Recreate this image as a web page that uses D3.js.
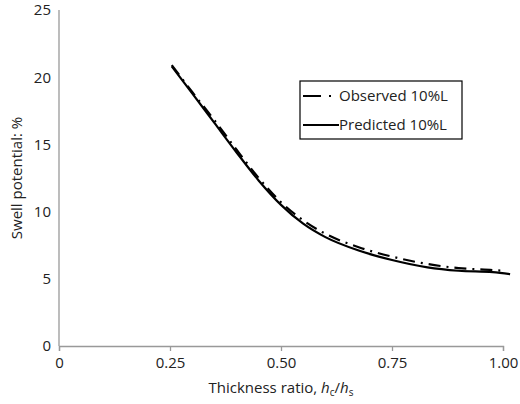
<!DOCTYPE html>
<html><head><meta charset="utf-8">
<script src="https://cdn.jsdelivr.net/npm/d3@7"></script>
<style>body{margin:0;background:#fff}text{font-family:"Open Sans",sans-serif;fill:#222}</style>
</head><body><svg id="c" width="520" height="404"></svg>
<script>
const xTicks = [0, 0.25, 0.5, 0.75, 1.0];
const xTickLabels = ['0', '0.25', '0.50', '0.75', '1.00'];
const yTicks = [0, 5, 10, 15, 20, 25];
const predX = [0.254, 0.30, 0.35, 0.40, 0.45, 0.50, 0.55, 0.60, 0.675, 0.75, 0.83, 0.90, 0.977, 1.016];
const predY = [20.8, 18.8, 16.6, 14.4, 12.3, 10.5, 9.1, 8.1, 7.1, 6.4, 5.85, 5.6, 5.5, 5.35];
const obsX = [0.254, 0.30, 0.35, 0.40, 0.45, 0.50, 0.55, 0.60, 0.675, 0.75, 0.83, 0.90, 0.977, 1.0];
const obsY = [20.9, 18.9, 16.8, 14.6, 12.5, 10.7, 9.35, 8.35, 7.35, 6.65, 6.1, 5.8, 5.65, 5.6];

const svg = d3.select('#c');
const x = d3.scaleLinear().domain([0, 1]).range([59, 503]);
const y = d3.scaleLinear().domain([0, 25]).range([346, 10]);

const xAxis = svg.append('g').attr('transform', 'translate(0,346)')
    .call(d3.axisBottom(x).tickValues(xTicks).tickFormat((d, i) => xTickLabels[i]).tickSizeOuter(0).tickSize(5));
const yAxis = svg.append('g').attr('transform', 'translate(59,0)')
    .call(d3.axisLeft(y).tickValues(yTicks).tickSize(0).tickPadding(8));
[xAxis, yAxis].forEach(a => {
    a.selectAll('path,line').attr('stroke', '#999').attr('stroke-width', 1.3);
    a.selectAll('text').style('font-size', '15px').attr('fill', '#222');
});
xAxis.selectAll('text').attr('dy', '0.9em');
yAxis.select('.domain').attr('d', 'M0,346V10');

const line = d3.line().x(d => x(d[0])).y(d => y(d[1])).curve(d3.curveMonotoneX);
svg.append('path').datum(predX.map((v, i) => [v, predY[i]]))
    .attr('d', line).attr('fill', 'none').attr('stroke', '#000').attr('stroke-width', 2.2);
svg.append('path').datum(obsX.map((v, i) => [v, obsY[i]]))
    .attr('d', line).attr('fill', 'none').attr('stroke', '#000').attr('stroke-width', 2.2)
    .attr('stroke-dasharray', '12 6 2 6');

// legend
const lg = svg.append('g');
lg.append('rect').attr('x', 300).attr('y', 81).attr('width', 162).attr('height', 58)
    .attr('fill', '#fff').attr('stroke', '#000').attr('stroke-width', 1.2);
lg.append('line').attr('x1', 303).attr('x2', 331).attr('y1', 96).attr('y2', 96)
    .attr('stroke', '#000').attr('stroke-width', 2.2).attr('stroke-dasharray', '18 8 2 6');
lg.append('line').attr('x1', 303).attr('x2', 339).attr('y1', 125).attr('y2', 125)
    .attr('stroke', '#000').attr('stroke-width', 2.2);
lg.append('text').attr('x', 339).attr('y', 101).style('font-size', '15px').text('Observed 10%L');
lg.append('text').attr('x', 339).attr('y', 130).style('font-size', '15px').text('Predicted 10%L');

svg.append('text').attr('transform', 'translate(22,178) rotate(-90)').attr('text-anchor', 'middle')
    .style('font-size', '15px').text('Swell potential: %');
const xl = svg.append('text').attr('x', 281).attr('y', 393).attr('text-anchor', 'middle').style('font-size', '15px');
xl.append('tspan').text('Thickness ratio, ');
xl.append('tspan').attr('font-style', 'italic').text('h');
xl.append('tspan').attr('font-size', '10px').attr('dy', 3).text('c');
xl.append('tspan').attr('dy', -3).text('/');
xl.append('tspan').attr('font-style', 'italic').text('h');
xl.append('tspan').attr('font-size', '10px').attr('dy', 3).text('s');
</script></body></html>
